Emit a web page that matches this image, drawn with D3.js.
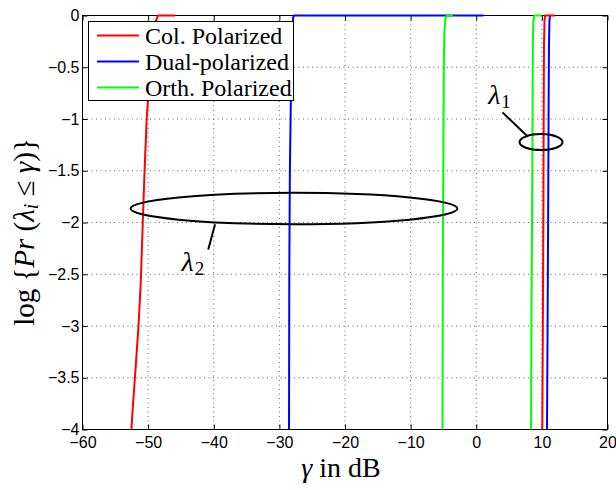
<!DOCTYPE html>
<html>
<head>
<meta charset="utf-8">
<script src="https://d3js.org/d3.v7.min.js"></script>
<style>
  body { margin: 0; background: #fff; }
  .tick text { font-family: "Liberation Sans", Arial, sans-serif; font-size: 16px; fill: #000; }
  .serif { font-family: "Liberation Serif", "Times New Roman", serif; }
</style>
</head>
<body>
<div id="chart"></div>
<script>
// ---- data: [gamma (dB), log Pr] ----
var colLambda2  = [[-52.55,-4.0],[-52.35,-3.8],[-51.9,-3.4],[-51.47,-3.0],[-51.14,-2.6],[-50.92,-2.2],
                   [-50.71,-1.8],[-50.48,-1.4],[-50.22,-1.0],[-49.9,-0.7],[-49.5,-0.4],[-49.1,-0.17],
                   [-48.8,-0.05],[-48.5,0],[-45.9,0]];
var dualLambda2 = [[-28.53,-4.0],[-28.49,-2.5],[-28.4,-1.5],[-28.27,-0.9],[-28.15,-0.4],[-28.0,-0.1],
                   [-27.9,-0.02],[-27.8,0],[1.1,0]];
var orthLambda2 = [[-5.15,-4.0],[-5.1,-2.5],[-5.0,-1.2],[-4.95,-0.5],[-4.85,-0.15],[-4.7,-0.03],
                   [-4.5,0],[-3.55,0]];
var colLambda1  = [[10.06,-4.0],[10.15,-3.0],[10.22,-2.0],[10.27,-1.0],[10.32,-0.3],[10.4,-0.05],
                   [10.5,0],[12.0,0]];
var dualLambda1 = [[10.78,-4.0],[10.87,-3.0],[10.95,-2.0],[11.02,-1.0],[11.08,-0.3],[11.15,-0.05],
                   [11.25,0]];
var orthLambda1 = [[8.35,-4.0],[8.4,-3.0],[8.5,-2.0],[8.58,-1.0],[8.62,-0.3],[8.7,-0.05],
                   [8.85,0],[10.0,0]];

var seriesNames  = ["Col. Polarized", "Dual-polarized", "Orth. Polarized"];
var seriesColors = ["#ff0000", "#0000ff", "#00ff00"];

var xTicks = [-60, -50, -40, -30, -20, -10, 0, 10, 20];
var yTicks = [0, -0.5, -1, -1.5, -2, -2.5, -3, -3.5, -4];

// ---- layout ----
var width = 616, height = 490;
var padL = 82.5, padR = 607.5, padT = 15.5, padB = 429.5;

var svg = d3.select("#chart").append("svg")
    .attr("width", width).attr("height", height);

var x = d3.scaleLinear().domain([-60, 20]).range([padL, padR]);
var y = d3.scaleLinear().domain([-4, 0]).range([padB, padT]);

function fmt(d) { return String(d).replace("-", "\u2212"); }

// grid
var grid = svg.append("g").attr("stroke", "#666").attr("stroke-width", 1)
    .attr("stroke-dasharray", "1,3.5");
grid.selectAll("line.vx").data(xTicks.slice(1, -1)).enter().append("line")
    .attr("x1", function(d) { return x(d); }).attr("x2", function(d) { return x(d); })
    .attr("y1", padT).attr("y2", padB);
grid.selectAll("line.hy").data(yTicks.slice(1, -1)).enter().append("line")
    .attr("y1", function(d) { return y(d); }).attr("y2", function(d) { return y(d); })
    .attr("x1", padL).attr("x2", padR);

// axes (ticks point inward, box on)
function styleAxis(g) {
  g.select(".domain").remove();
  g.selectAll(".tick line").attr("stroke", "#000");
}
svg.append("g").attr("transform", "translate(0," + padB + ")")
  .call(d3.axisBottom(x).tickValues(xTicks).tickFormat(fmt).tickSize(-5).tickPadding(7))
  .call(styleAxis);
svg.append("g").attr("transform", "translate(0," + padT + ")")
  .call(d3.axisTop(x).tickValues(xTicks).tickFormat("").tickSize(-5))
  .call(styleAxis);
svg.append("g").attr("transform", "translate(" + padL + ",0)")
  .call(d3.axisLeft(y).tickValues(yTicks).tickFormat(fmt).tickSize(-5).tickPadding(3))
  .call(styleAxis);
svg.append("g").attr("transform", "translate(" + padR + ",0)")
  .call(d3.axisRight(y).tickValues(yTicks).tickFormat("").tickSize(-5))
  .call(styleAxis);
svg.selectAll(".tick text").attr("fill", "#000");

svg.append("rect").attr("x", padL).attr("y", padT)
   .attr("width", padR - padL).attr("height", padB - padT)
   .attr("fill", "none").attr("stroke", "#000").attr("stroke-width", 1);

// curves
var line = d3.line().x(function(d) { return x(d[0]); }).y(function(d) { return y(d[1]); });
var curves = [
  [colLambda2, 0], [dualLambda2, 1], [orthLambda2, 2],
  [dualLambda1, 1], [colLambda1, 0], [orthLambda1, 2]
];
svg.append("g").selectAll("path").data(curves).enter().append("path")
   .attr("d", function(c) { return line(c[0]); })
   .attr("fill", "none")
   .attr("stroke", function(c) { return seriesColors[c[1]]; })
   .attr("stroke-width", 2)
   .attr("stroke-linejoin", "round");

// annotations (ellipses + pointers + labels)
var ann = svg.append("g").attr("stroke", "#000").attr("fill", "none").attr("stroke-width", 2);
ann.append("ellipse").attr("cx", x(-27.77)).attr("cy", y(-1.865))
   .attr("rx", x(24.9) - x(0)).attr("ry", y(-0.152) - y(0));
ann.append("line").attr("x1", x(-39.8)).attr("y1", y(-2.017)).attr("x2", x(-40.84)).attr("y2", y(-2.261));
ann.append("ellipse").attr("cx", x(9.87)).attr("cy", y(-1.223))
   .attr("rx", x(3.28) - x(0)).attr("ry", y(-0.077) - y(0));
ann.append("line").attr("x1", x(4.0)).attr("y1", y(-0.936)).attr("x2", x(7.88)).attr("y2", y(-1.172));

function lambdaLabel(gx, gy, sub) {
  var t = svg.append("text").attr("class", "serif").attr("x", x(gx)).attr("y", y(gy))
     .attr("font-size", 28).attr("fill", "#000");
  t.append("tspan").attr("font-style", "italic").text("\u03bb");
  t.append("tspan").attr("font-size", 19).attr("dy", 4).attr("dx", 1).text(sub);
}
lambdaLabel(-44.9, -2.468, "2");
lambdaLabel(1.82, -0.856, "1");

// axis titles
var xt = svg.append("text").attr("class", "serif").attr("x", 341).attr("y", 477)
   .attr("text-anchor", "middle").attr("font-size", 28).attr("fill", "#000");
xt.append("tspan").attr("font-style", "italic").text("\u03b3");
xt.append("tspan").text(" in dB");

var yt = svg.append("text").attr("class", "serif")
   .attr("transform", "translate(34,232) rotate(-90)")
   .attr("text-anchor", "middle").attr("font-size", 29).attr("fill", "#000");
yt.append("tspan").text("log {");
yt.append("tspan").attr("font-style", "italic").text("Pr");
yt.append("tspan").text(" (");
yt.append("tspan").attr("font-style", "italic").text("\u03bb");
yt.append("tspan").attr("font-style", "italic").attr("font-size", 20).attr("dy", 4).text("i");
yt.append("tspan").attr("dy", -4).text(" \u2264 ");
yt.append("tspan").attr("font-style", "italic").text("\u03b3");
yt.append("tspan").text(")}");

// legend
var lg = svg.append("g");
lg.append("rect").attr("x", 88.5).attr("y", 21.5).attr("width", 205).attr("height", 79)
  .attr("fill", "#fff").attr("stroke", "#000").attr("stroke-width", 1);
var rowsY = [35.5, 61.5, 87.5];
seriesNames.forEach(function(name, i) {
  lg.append("line").attr("x1", 97).attr("x2", 139).attr("y1", rowsY[i]).attr("y2", rowsY[i])
    .attr("stroke", seriesColors[i]).attr("stroke-width", 2);
  lg.append("text").attr("class", "serif").attr("x", 145).attr("y", rowsY[i] + 8)
    .attr("font-size", 24).attr("fill", "#000").text(name);
});
</script>
</body>
</html>
